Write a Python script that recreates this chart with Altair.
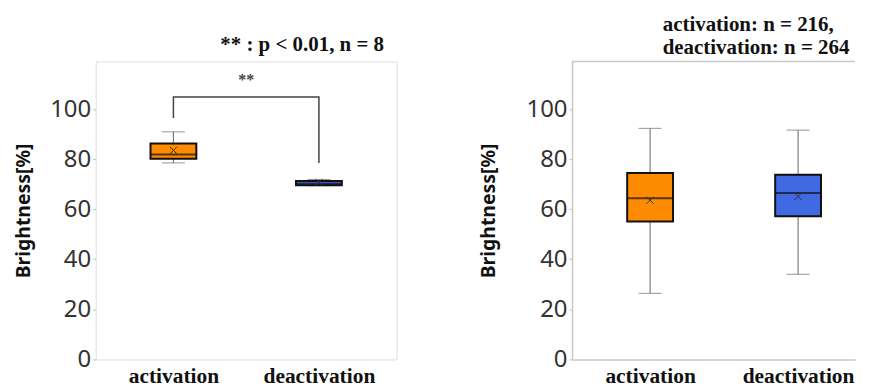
import altair as alt
import pandas as pd

groups = ["activation", "deactivation"]
colors = ["#FF8C00", "#4169E1"]
yticks = [0, 20, 40, 60, 80, 100]

# Left panel (n = 8)
p1_low = [78.5, 69.4]
p1_q1 = [80.2, 69.6]
p1_med = [81.9, 70.2]
p1_q3 = [86.2, 71.3]
p1_high = [90.9, 71.9]
p1_mean = [83.5, 70.7]
p1_title = ["** : p < 0.01, n = 8"]

# significance bracket (left panel)
bracket_idx = [0, 0, 1, 1]
bracket_y = [96.4, 104.8, 104.8, 78.5]
star_text = ["**"]
star_idx = [0.5]
star_y = [111.5]

# Right panel
p2_low = [26.4, 34.0]
p2_q1 = [55.1, 57.2]
p2_med = [64.4, 66.5]
p2_q3 = [74.5, 73.8]
p2_high = [92.3, 91.6]
p2_mean = [63.6, 65.1]
p2_title = ["activation: n = 216,", "deactivation: n = 264"]

label_expr = "datum.value == 0 ? '%s' : '%s'" % (groups[0], groups[1])
SERIF = "Liberation Serif"
SANS = "Noto Sans"
FRAME = "#c8c8c8"


def panel(low, q1, med, q3, high, mean, xdomain, width, title, title_dx,
          title_offset, ytitle_pad, extra=None, open_right=False):
    df = pd.DataFrame({"idx": [0, 1], "group": groups, "low": low, "q1": q1,
                       "med": med, "q3": q3, "high": high, "mean": mean})
    xs = alt.Scale(domain=xdomain, nice=False, zero=False)
    ys = alt.Scale(domain=[0, 119], nice=False)
    x = alt.X("idx:Q", scale=xs, axis=alt.Axis(
        values=[0, 1], labelExpr=label_expr, title=None, grid=False,
        ticks=False, domain=open_right, domainColor=FRAME, domainWidth=1.5,
        labelFont=SERIF, labelFontWeight="bold",
        labelFontSize=21.5, labelColor="#111", labelPadding=6))
    yaxis = alt.Axis(values=yticks, grid=False, domain=open_right,
                     domainColor=FRAME, domainWidth=1.5, tickSize=3,
                     tickColor="#bbb", labelFont=SANS, labelFontSize=24,
                     labelColor="#333", labelPadding=2,
                     title="Brightness[%]", titleFont=SANS,
                     titleFontWeight="bold", titleFontSize=19.5,
                     titleColor="#111", titlePadding=ytitle_pad)
    color = alt.Color("group:N", scale=alt.Scale(domain=groups, range=colors),
                      legend=None)
    base = alt.Chart(df)
    whisk = base.mark_rule(color="#666", strokeWidth=1).encode(
        x=x, y=alt.Y("low:Q", scale=ys, axis=yaxis), y2="high:Q")
    caps_lo = base.mark_tick(orient="horizontal", size=23, thickness=1,
                             color="#666").encode(x=x, y=alt.Y("low:Q", scale=ys))
    caps_hi = base.mark_tick(orient="horizontal", size=23, thickness=1,
                             color="#666").encode(x=x, y=alt.Y("high:Q", scale=ys))
    box = base.mark_bar(size=46, stroke="#111", strokeWidth=2).encode(
        x=x, y=alt.Y("q1:Q", scale=ys), y2="q3:Q", color=color)
    median = base.mark_tick(orient="horizontal", size=46, thickness=2,
                            color="#111").encode(x=x, y=alt.Y("med:Q", scale=ys))
    meanm = base.mark_point(shape="M-1,-1L1,1M1,-1L-1,1", size=50,
                            strokeWidth=1, color="#333", filled=False,
                            opacity=1).encode(x=x, y=alt.Y("mean:Q", scale=ys))
    layers = [whisk, caps_lo, caps_hi, box, median, meanm]
    if open_right:
        # top frame line only (right side is cut off in the original)
        top = alt.Chart(df.head(1)).mark_rule(color=FRAME, strokeWidth=1.5).encode(
            x=alt.value(0), x2=alt.value(width), y=alt.value(0))
        layers.append(top)
    if extra is not None:
        layers += extra(x, ys)
    props = dict(
        width=width, height=299,
        title=alt.TitleParams(text=title, anchor="start", frame="group",
                              dx=title_dx, font=SERIF, fontWeight="bold",
                              fontSize=21, color="#111", offset=title_offset,
                              align="left", lineHeight=23))
    if open_right:
        props["view"] = alt.ViewBackground(strokeOpacity=0)
    return alt.layer(*layers).properties(**props)


def bracket(x, ys):
    bdf = pd.DataFrame({"idx": bracket_idx, "y": bracket_y,
                        "order": list(range(len(bracket_y)))})
    sdf = pd.DataFrame({"idx": star_idx, "y": star_y, "t": star_text})
    line = alt.Chart(bdf).mark_line(color="#444", strokeWidth=1.5).encode(
        x=x, y=alt.Y("y:Q", scale=ys), order="order:Q")
    star = alt.Chart(sdf).mark_text(font=SERIF, fontWeight="bold", fontSize=16,
                                    color="#444").encode(
        x=x, y=alt.Y("y:Q", scale=ys), text="t:N")
    return [line, star]


left = panel(p1_low, p1_q1, p1_med, p1_q3, p1_high, p1_mean,
             [-0.5, 1.5], 302, p1_title, 125, 7, 16, extra=bracket)
right = panel(p2_low, p2_q1, p2_med, p2_q3, p2_high, p2_mean,
              [-0.494, 1.351], 284, p2_title, 91, 3, 28, open_right=True)

chart = alt.hconcat(left, right, spacing=176, bounds="flush").configure_view(
    stroke=FRAME, strokeWidth=1.5).configure(background="white")

chart.save("out.html", embed_options={"renderer": "svg", "actions": False})
